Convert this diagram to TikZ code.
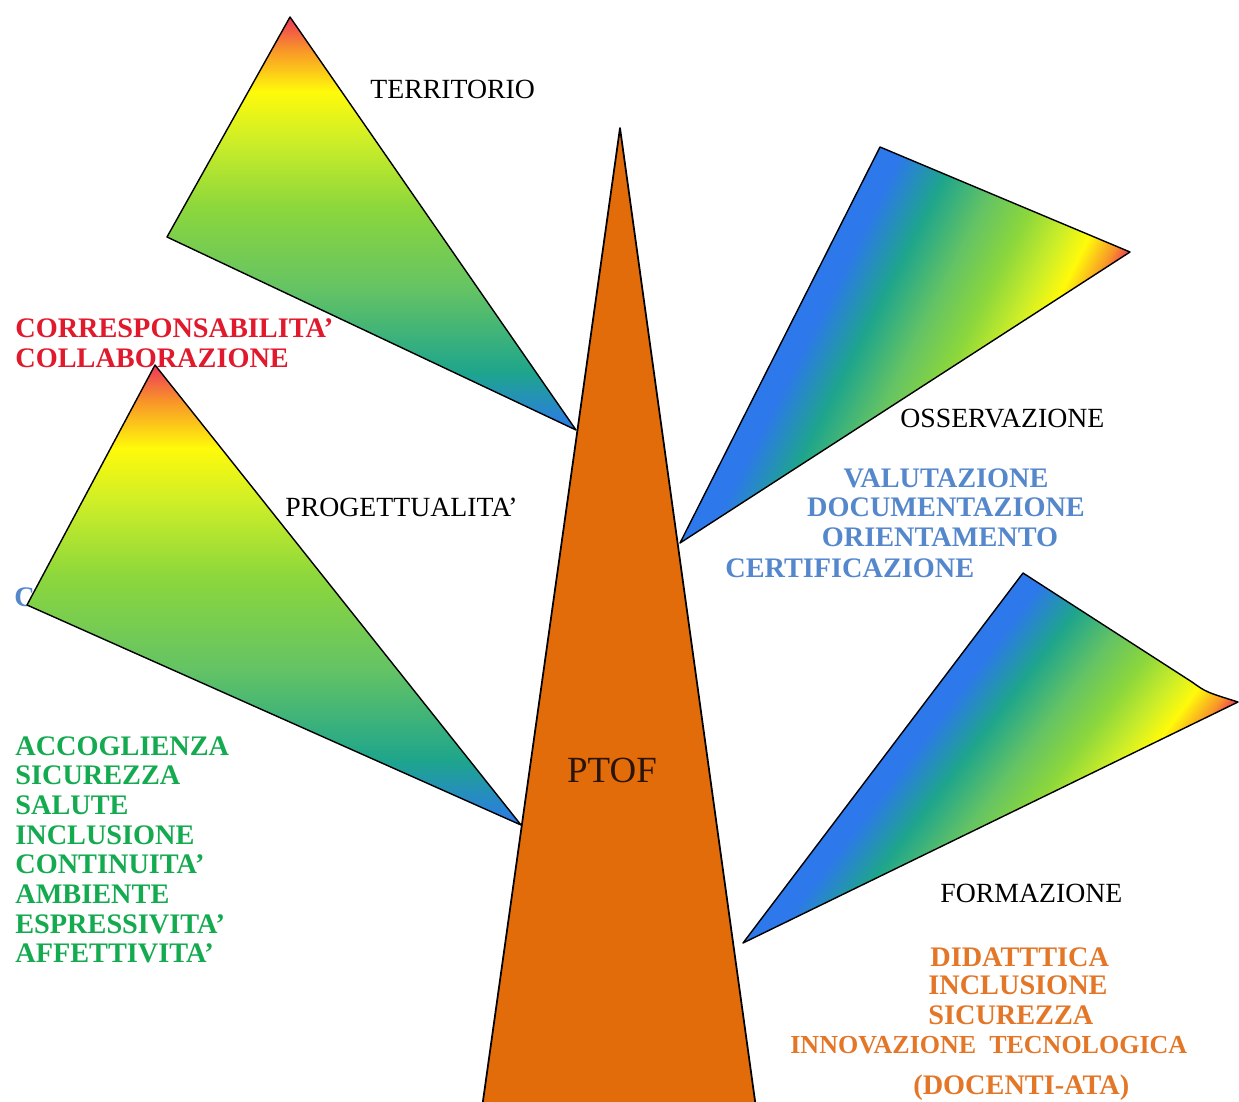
\documentclass[tikz,border=0pt]{standalone}
\usepackage{fontspec}
\setmainfont{Liberation Serif}
\definecolor{gblue}{RGB}{45,120,235}
\definecolor{gteal}{RGB}{30,165,140}
\definecolor{gmid}{RGB}{100,195,100}
\definecolor{ggreen}{RGB}{140,215,60}
\definecolor{glime}{RGB}{205,238,40}
\definecolor{gyellow}{RGB}{255,250,10}
\definecolor{gorange}{RGB}{248,150,40}
\definecolor{gred}{RGB}{238,55,90}
\definecolor{trunkorange}{RGB}{226,108,10}
\definecolor{txtred}{RGB}{225,25,45}
\definecolor{txtgreen}{RGB}{20,170,80}
\definecolor{txtblue}{RGB}{85,135,205}
\definecolor{txtorange}{RGB}{228,118,40}
\definecolor{txtdark}{RGB}{45,20,10}
\pgfdeclareverticalshading{rainbowV}{100bp}{color(0bp)=(gblue); color(25bp)=(gblue); color(32bp)=(gteal); color(42bp)=(gmid); color(52bp)=(ggreen); color(60bp)=(glime); color(66bp)=(gyellow); color(71bp)=(gorange); color(75bp)=(gred); color(100bp)=(gred)}
\pgfdeclarehorizontalshading{rainbowH}{100bp}{color(0bp)=(gblue); color(29bp)=(gblue); color(38bp)=(gteal); color(47bp)=(gmid); color(55bp)=(ggreen); color(62bp)=(glime); color(67bp)=(gyellow); color(72bp)=(gorange); color(75bp)=(gred); color(100bp)=(gred)}
\tikzset{
  outline/.style={draw=black, line width=0.8pt, line join=round},
  lbl/.style={font=\fontsize{15.8}{19}\selectfont, text=black, inner sep=0pt, anchor=base west},
  bold/.style={font=\fontsize{16.1}{19}\selectfont\bfseries, inner sep=0pt, anchor=base west},
  redtxt/.style={bold, text=txtred},
  greentxt/.style={bold, text=txtgreen},
  bluetxt/.style={bold, text=txtblue},
  orangetxt/.style={bold, text=txtorange},
}
\begin{document}
\begin{tikzpicture}[x=0.02cm, y=-0.02cm]
\useasboundingbox (0,0) rectangle (1239,1101);
\fill[white] (0,0) rectangle (1239,1101);
% vertices
\coordinate (t1a) at (290,17);
\coordinate (t1b) at (167,237);
\coordinate (t1c) at (576,430);
\coordinate (t2a) at (155,365);
\coordinate (t2b) at (27,605);
\coordinate (t2c) at (521,825);
\coordinate (t3a) at (880,147);
\coordinate (t3b) at (1130,252);
\coordinate (t3c) at (680,543);
\coordinate (t4a) at (1023,573);
\coordinate (t4m) at (1192,682);
\coordinate (t4b) at (1238,702);
\coordinate (t4c) at (743,943);
\coordinate (tk) at (620,128);
\coordinate (tl) at (482,1108);
\coordinate (tr) at (756,1108);
% hidden blue C
\node[bluetxt] (cfrag) at (14,606) {C};
% branch TERRITORIO
\shadedraw[shading=rainbowV, outline] (t1a) -- (t1b) -- (t1c) -- cycle;
% branch PROGETTUALITA
\shadedraw[shading=rainbowV, outline] (t2a) -- (t2b) -- (t2c) -- cycle;
% branch OSSERVAZIONE
\begin{scope}
  \clip (t3a) -- (t3b) -- (t3c) -- cycle;
  \begin{scope}[transform canvas={shift={(t3a)}, rotate=-26.8}]
    \shade[shading=rainbowH] (0,-900) rectangle (270.5,900);
  \end{scope}
\end{scope}
\draw[outline] (t3a) -- (t3b) -- (t3c) -- cycle;
% branch FORMAZIONE
\begin{scope}
  \clip (t4a) -- (t4m) .. controls (1206,692) .. (t4b) -- (t4c) -- cycle;
  \begin{scope}[transform canvas={shift={(t4a)}, rotate=-37.1}]
    \shade[shading=rainbowH] (0,-900) rectangle (249,900);
  \end{scope}
\end{scope}
\draw[outline] (t4a) -- (t4m) .. controls (1206,692) .. (t4b) -- (t4c) -- cycle;
% trunk
\filldraw[fill=trunkorange, outline, line width=1pt] (tk) -- (tl) -- (tr) -- cycle;
\node[font=\fontsize{21}{24}\selectfont, text=txtdark, inner sep=0pt, anchor=base] (ptof) at (612,782) {PTOF};
% labels
\node[lbl] (territorio) at (370,99) {TERRITORIO};
\node[lbl] (progett) at (285,516) {PROGETTUALITA’};
\node[lbl] (osserv) at (900,427) {OSSERVAZIONE};
\node[lbl] (formaz) at (940,902) {FORMAZIONE};
% red
\node[redtxt] (corr) at (15,337) {CORRESPONSABILITA’};
\node[redtxt] (coll) at (15,367) {COLLABORAZIONE};
% green
\foreach \w [count=\i] in {ACCOGLIENZA,SICUREZZA,SALUTE,INCLUSIONE,CONTINUITA’,AMBIENTE,ESPRESSIVITA’,AFFETTIVITA’}
  \node[greentxt] (g\i) at (15,{755+29.7*(\i-1)}) {\w};
% blue
\node[bluetxt, anchor=base] (valut) at (946,487) {VALUTAZIONE};
\node[bluetxt, anchor=base] (docum) at (946,516) {DOCUMENTAZIONE};
\node[bluetxt, anchor=base] (orient) at (940,546) {ORIENTAMENTO};
\node[bluetxt] (certif) at (725,577) {CERTIFICAZIONE};
% orange
\node[orangetxt] (didat) at (930,966) {DIDATTTICA};
\node[orangetxt] (inclus) at (928,994) {INCLUSIONE};
\node[orangetxt] (sicur) at (928,1024) {SICUREZZA};
\node[orangetxt, font=\fontsize{14.8}{18}\selectfont\bfseries] (innov) at (790,1053) {INNOVAZIONE\ \ TECNOLOGICA};
\node[orangetxt] (docata) at (913,1094) {(DOCENTI-ATA)};
\end{tikzpicture}
\end{document}
